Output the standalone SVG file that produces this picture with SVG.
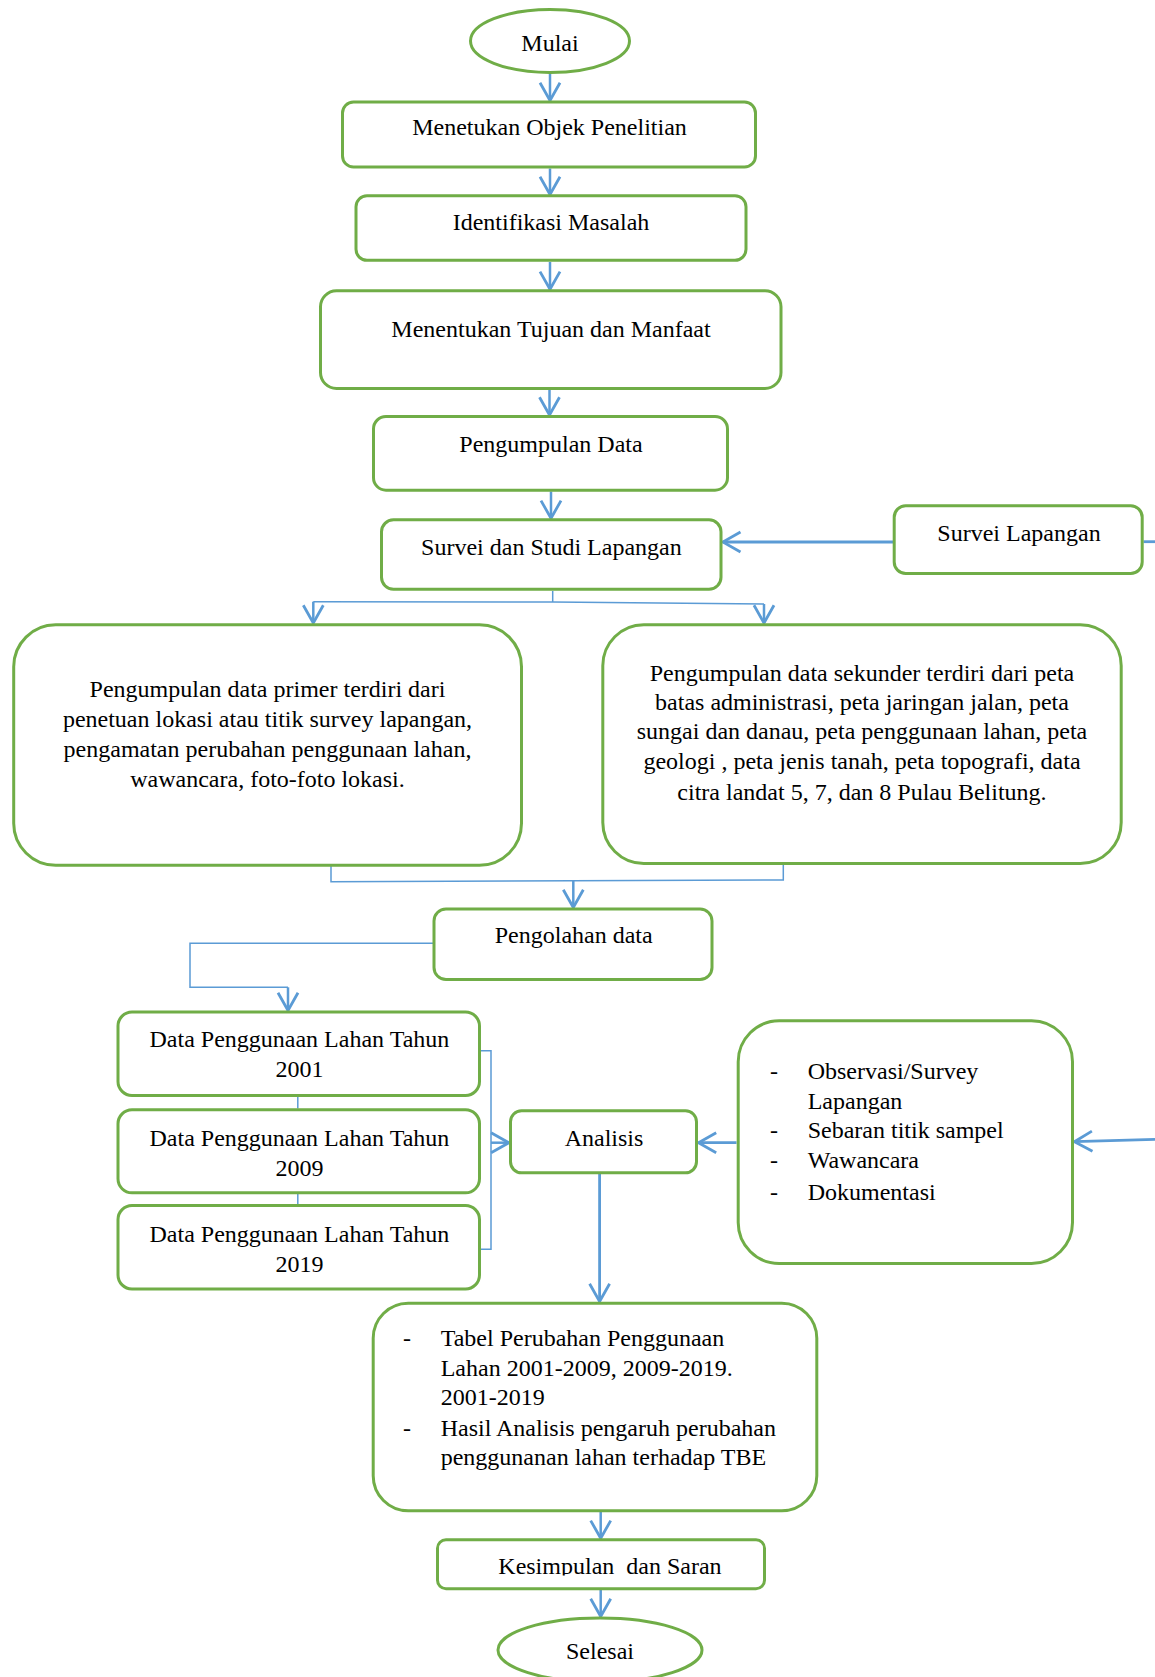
<svg xmlns="http://www.w3.org/2000/svg" width="1155" height="1677" viewBox="0 0 1155 1677">
<style>
.box{fill:#fff;stroke:#70AD47;stroke-width:3}
.t{font-family:"Liberation Serif","Times New Roman",serif;font-size:24px;fill:#000}
.m{text-anchor:middle}
.c{fill:none;stroke:#5B9BD5;stroke-width:2.5}
.thin{fill:none;stroke:#5B9BD5;stroke-width:1.5}
.thick{fill:none;stroke:#5B9BD5;stroke-width:2.8}
</style>
<defs>
<marker id="ah" viewBox="-20 -12 22 24" markerWidth="22" markerHeight="24" refX="0" refY="0" orient="auto" markerUnits="userSpaceOnUse">
<path d="M -17.7 -10 L 0 0 L -17.7 10" fill="none" stroke="#5B9BD5" stroke-width="2.8"/>
</marker>
<clipPath id="clipK"><rect x="430" y="1536" width="340" height="39.5"/></clipPath>
</defs>
<rect width="1155" height="1677" fill="#fff"/>

<g id="connectors">
<line class="c" x1="550" y1="73" x2="550" y2="100.5" marker-end="url(#ah)"/>
<line class="c" x1="550" y1="168.5" x2="550" y2="194.5" marker-end="url(#ah)"/>
<line class="c" x1="550" y1="262" x2="550" y2="289.3" marker-end="url(#ah)"/>
<line class="c" x1="549.5" y1="390" x2="549.5" y2="415" marker-end="url(#ah)"/>
<line class="c" x1="551" y1="491.5" x2="551" y2="518.3" marker-end="url(#ah)"/>
<line class="thick" x1="893" y1="542" x2="722.8" y2="542" marker-end="url(#ah)"/>
<line class="thick" x1="1143.5" y1="541.7" x2="1155" y2="541.7"/>
<line class="thin" x1="552.7" y1="591" x2="552.7" y2="602"/>
<polyline class="thin" points="313.3,601.7 552.7,602 764,604"/>
<line class="c" x1="313.3" y1="601.7" x2="313.3" y2="623" marker-end="url(#ah)"/>
<line class="c" x1="764" y1="604" x2="764" y2="623" marker-end="url(#ah)"/>
<polyline class="thin" points="331,866 331,881.7 783.3,880 783.3,865"/>
<line class="c" x1="573.3" y1="881" x2="573.3" y2="907.5" marker-end="url(#ah)"/>
<polyline class="thin" points="433,943.3 190,943.3 190,987.3 288,987.3"/>
<line class="c" x1="288" y1="987.3" x2="288" y2="1010.5" marker-end="url(#ah)"/>
<line class="thin" x1="297.8" y1="1096" x2="297.8" y2="1108.5"/>
<line class="thin" x1="297.8" y1="1193.5" x2="297.8" y2="1204"/>
<polyline class="thin" points="480.7,1050.7 491,1050.7 491,1249.3 480.7,1249.3"/>
<line class="c" x1="491" y1="1142.7" x2="508.8" y2="1142.7" marker-end="url(#ah)"/>
<line class="thick" x1="736.5" y1="1142.7" x2="698.5" y2="1142.7" marker-end="url(#ah)"/>
<line class="thick" x1="1155" y1="1139.3" x2="1074.5" y2="1141.7" marker-end="url(#ah)"/>
<line class="thick" x1="599.6" y1="1174" x2="599.6" y2="1301.5" marker-end="url(#ah)"/>
<line class="c" x1="600.7" y1="1512" x2="600.7" y2="1538.3" marker-end="url(#ah)"/>
<line class="c" x1="600.7" y1="1590" x2="600.7" y2="1616.5" marker-end="url(#ah)"/>
</g>

<g id="mulai">
<ellipse class="box" cx="550" cy="41" rx="79.5" ry="31.5"/>
<text class="t m" x="550" y="51">Mulai</text>
</g>
<g id="objek">
<rect class="box" x="342.5" y="102" width="413" height="65" rx="11"/>
<text class="t m" x="549.5" y="135">Menetukan Objek Penelitian</text>
</g>
<g id="identifikasi">
<rect class="box" x="356" y="195.8" width="390" height="64.5" rx="11"/>
<text class="t m" x="551" y="230">Identifikasi Masalah</text>
</g>
<g id="tujuan">
<rect class="box" x="320.5" y="290.8" width="460.5" height="97.7" rx="16"/>
<text class="t m" x="551" y="337">Menentukan Tujuan dan Manfaat</text>
</g>
<g id="pengumpulan">
<rect class="box" x="373.5" y="416.5" width="354" height="73.7" rx="12.5"/>
<text class="t m" x="551" y="451.7">Pengumpulan Data</text>
</g>
<g id="survei-studi">
<rect class="box" x="381.5" y="519.8" width="339.5" height="69.5" rx="12"/>
<text class="t m" x="551.4" y="555">Survei dan Studi Lapangan</text>
</g>
<g id="survei-lapangan">
<rect class="box" x="894.2" y="505.8" width="248" height="67.7" rx="11.5"/>
<text class="t m" x="1019" y="541">Survei Lapangan</text>
</g>
<g id="primer">
<rect class="box" x="13.7" y="624.8" width="507.8" height="240.5" rx="42"/>
<text class="t m" x="267.5" y="697.3">Pengumpulan data primer terdiri dari</text>
<text class="t m" x="267.5" y="727.2">penetuan lokasi atau titik survey lapangan,</text>
<text class="t m" x="267.5" y="756.8">pengamatan perubahan penggunaan lahan,</text>
<text class="t m" x="267.5" y="786.7">wawancara, foto-foto lokasi.</text>
</g>
<g id="sekunder">
<rect class="box" x="602.8" y="624.8" width="518.4" height="238.7" rx="41"/>
<text class="t m" x="862" y="680.7">Pengumpulan data sekunder terdiri dari peta</text>
<text class="t m" x="862" y="710">batas administrasi, peta jaringan jalan, peta</text>
<text class="t m" x="862" y="739.3">sungai dan danau, peta penggunaan lahan, peta</text>
<text class="t m" x="862" y="769.3">geologi , peta jenis tanah, peta topografi, data</text>
<text class="t m" x="862" y="800">citra landat 5, 7, dan 8 Pulau Belitung.</text>
</g>
<g id="pengolahan">
<rect class="box" x="434" y="909" width="278" height="70.5" rx="12"/>
<text class="t m" x="573.7" y="943.3">Pengolahan data</text>
</g>
<g id="data2001">
<rect class="box" x="118" y="1012" width="361.5" height="83.5" rx="14"/>
<text class="t m" x="299.4" y="1047.3">Data Penggunaan Lahan Tahun</text>
<text class="t m" x="299.4" y="1077.3">2001</text>
</g>
<g id="data2009">
<rect class="box" x="118" y="1109.8" width="361.5" height="83" rx="14"/>
<text class="t m" x="299.4" y="1145.7">Data Penggunaan Lahan Tahun</text>
<text class="t m" x="299.4" y="1176">2009</text>
</g>
<g id="data2019">
<rect class="box" x="118" y="1205.5" width="361.5" height="83.5" rx="14"/>
<text class="t m" x="299.4" y="1241.7">Data Penggunaan Lahan Tahun</text>
<text class="t m" x="299.4" y="1271.7">2019</text>
</g>
<g id="analisis">
<rect class="box" x="510.5" y="1110.8" width="186" height="62" rx="11"/>
<text class="t m" x="604" y="1145.7">Analisis</text>
</g>
<g id="metode">
<rect class="box" x="738.2" y="1020.8" width="334.3" height="242.7" rx="41"/>
<text class="t" x="770" y="1079">-</text>
<text class="t" x="807.7" y="1079">Observasi/Survey</text>
<text class="t" x="807.7" y="1109">Lapangan</text>
<text class="t" x="770" y="1138.3">-</text>
<text class="t" x="807.7" y="1138.3">Sebaran titik sampel</text>
<text class="t" x="770" y="1168.3">-</text>
<text class="t" x="807.7" y="1168.3">Wawancara</text>
<text class="t" x="770" y="1200">-</text>
<text class="t" x="807.7" y="1200">Dokumentasi</text>
</g>
<g id="hasil">
<rect class="box" x="373.2" y="1303.2" width="443.6" height="207.6" rx="35"/>
<text class="t" x="403" y="1345.7">-</text>
<text class="t" x="440.7" y="1345.7">Tabel Perubahan Penggunaan</text>
<text class="t" x="440.7" y="1375.7">Lahan 2001-2009, 2009-2019.</text>
<text class="t" x="440.7" y="1405">2001-2019</text>
<text class="t" x="403" y="1435.7">-</text>
<text class="t" x="440.7" y="1435.7">Hasil Analisis pengaruh perubahan</text>
<text class="t" x="440.7" y="1465">penggunanan lahan terhadap TBE</text>
</g>
<g id="kesimpulan">
<rect class="box" x="437.5" y="1539.8" width="327" height="49" rx="8.5"/>
<text class="t" x="498.3" y="1574" clip-path="url(#clipK)" xml:space="preserve">Kesimpulan  dan Saran</text>
</g>
<g id="selesai">
<ellipse class="box" cx="600" cy="1650" rx="102" ry="32"/>
<text class="t m" x="600" y="1659.3">Selesai</text>
</g>
</svg>
